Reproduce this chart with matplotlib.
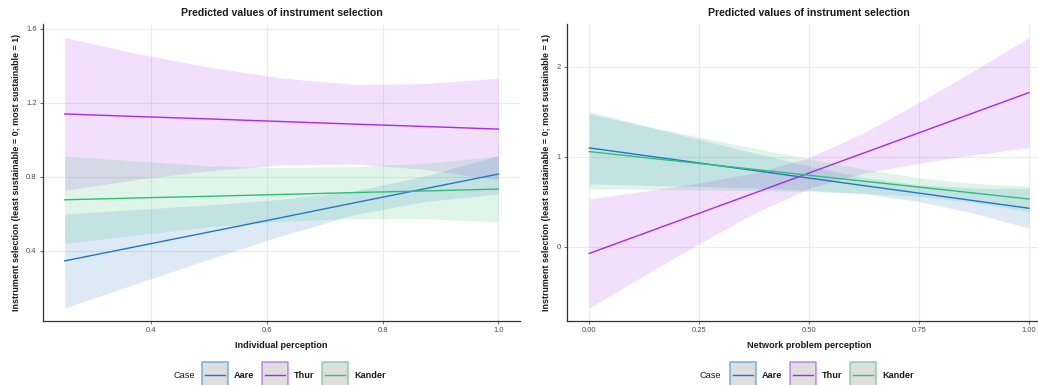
import matplotlib
matplotlib.use("Agg")
import matplotlib.pyplot as plt
from matplotlib.lines import Line2D
from matplotlib.patches import Rectangle

plt.rcParams["font.family"] = ["Liberation Sans", "DejaVu Sans"]

CASES = ["Aare", "Thur", "Kander"]
COLORS = {"Aare": "#1f78c8", "Thur": "#a72bea", "Kander": "#2ebf72"}

# left panel: individual perception
IND_X = [0.25, 0.375, 0.5, 0.625, 0.75, 0.875, 1.0]
IND_PRED = {
    "Aare": [0.346, 0.424, 0.502, 0.580, 0.659, 0.737, 0.815],
    "Thur": [1.140, 1.126, 1.113, 1.099, 1.085, 1.072, 1.058],
    "Kander": [0.676, 0.686, 0.695, 0.705, 0.715, 0.724, 0.734],
}
IND_HIGH = {
    "Aare": [0.600, 0.624, 0.649, 0.679, 0.723, 0.806, 0.915],
    "Thur": [1.553, 1.466, 1.393, 1.334, 1.300, 1.304, 1.333],
    "Kander": [0.912, 0.886, 0.860, 0.850, 0.855, 0.874, 0.912],
}
IND_LOW = {
    "Aare": [0.092, 0.224, 0.355, 0.481, 0.595, 0.668, 0.707],
    "Thur": [0.727, 0.786, 0.833, 0.864, 0.870, 0.840, 0.783],
    "Kander": [0.440, 0.486, 0.530, 0.560, 0.575, 0.574, 0.556],
}

# right panel: network problem perception
NET_X = [0.0, 0.125, 0.25, 0.375, 0.5, 0.625, 0.75, 0.875, 1.0]
NET_PRED = {
    "Aare": [1.097, 1.013, 0.930, 0.846, 0.762, 0.678, 0.595, 0.511, 0.427],
    "Thur": [-0.074, 0.149, 0.372, 0.595, 0.819, 1.042, 1.265, 1.488, 1.711],
    "Kander": [1.056, 0.990, 0.924, 0.859, 0.793, 0.727, 0.662, 0.596, 0.530],
}
NET_HIGH = {
    "Aare": [1.497, 1.343, 1.190, 1.041, 0.896, 0.768, 0.688, 0.651, 0.647],
    "Thur": [0.531, 0.617, 0.708, 0.819, 0.989, 1.266, 1.601, 1.956, 2.322],
    "Kander": [1.471, 1.342, 1.218, 1.094, 0.974, 0.860, 0.766, 0.702, 0.672],
}
NET_LOW = {
    "Aare": [0.697, 0.683, 0.669, 0.651, 0.628, 0.588, 0.502, 0.371, 0.207],
    "Thur": [-0.679, -0.319, 0.036, 0.371, 0.649, 0.818, 0.929, 1.020, 1.101],
    "Kander": [0.641, 0.638, 0.630, 0.624, 0.612, 0.594, 0.558, 0.490, 0.388],
}

IND_XTICKS = [0.4, 0.6, 0.8, 1.0]
IND_XLABELS = ["0.4", "0.6", "0.8", "1.0"]
IND_YTICKS = [0.4, 0.8, 1.2, 1.6]
IND_YLABELS = ["0.4", "0.8", "1.2", "1.6"]
NET_XTICKS = [0.0, 0.25, 0.5, 0.75, 1.0]
NET_XLABELS = ["0.00", "0.25", "0.50", "0.75", "1.00"]
NET_YTICKS = [0, 1, 2]
NET_YLABELS = ["0", "1", "2"]

TITLE = "Predicted values of instrument selection"
YLABEL = "Instrument selection (least sustainable = 0; most sustainable = 1)"

W, H = 1038, 385


def draw_panel(ax, xs, pred, high, low, xticks, xlabels, yticks, ylabels, xlim, ylim, xlabel, ypad):
    for case in CASES:
        ax.fill_between(xs, low[case], high[case], color=COLORS[case], alpha=0.15,
                        linewidth=0, zorder=2)
    for case in CASES:
        ax.plot(xs, pred[case], color=COLORS[case], lw=1.0, zorder=3)
    ax.set_xlim(*xlim)
    ax.set_ylim(*ylim)
    ax.set_xticks(xticks)
    ax.set_xticklabels(xlabels)
    ax.set_yticks(yticks)
    ax.set_yticklabels(ylabels)
    ax.grid(True, color="#ebebeb", lw=0.8, zorder=0)
    ax.set_axisbelow(True)
    for side in ["top", "right"]:
        ax.spines[side].set_visible(False)
    for side in ["left", "bottom"]:
        ax.spines[side].set_color("#333333")
        ax.spines[side].set_linewidth(0.9)
    ax.tick_params(length=2.5, width=0.5, color="#333333", labelcolor="#4d4d4d",
                   labelsize=5.5, pad=2)
    ax.set_title(TITLE, fontsize=7.6, fontweight="bold", color="#1a1a1a", pad=6)
    ax.set_xlabel(xlabel, fontsize=6.6, fontweight="bold", color="#1a1a1a", labelpad=5)
    ax.set_ylabel(YLABEL, fontsize=6.4, fontweight="bold", color="#1a1a1a", labelpad=ypad)


def draw_legend(fig, case_x, key_xs):
    fig.text(case_x / W, 1 - 375 / H, "Case", fontsize=6.6, color="#1a1a1a",
             ha="left", va="center")
    for case, kx in zip(CASES, key_xs):
        rect = Rectangle((kx / W, 1 - 389 / H), 26 / W, 27 / H, transform=fig.transFigure,
                         facecolor="#dedede", lw=1.1,
                         edgecolor=matplotlib.colors.to_rgba(COLORS[case], 0.55))
        fig.patches.append(rect)
        fig.lines.append(Line2D([(kx + 3) / W, (kx + 23) / W], [1 - 375 / H, 1 - 375 / H],
                                transform=fig.transFigure, color=COLORS[case], lw=1.0,
                                zorder=5))
        fig.text((kx + 32) / W, 1 - 375 / H, case, fontsize=6.6, fontweight="bold",
                 color="#1a1a1a", ha="left", va="center")


fig = plt.figure(figsize=(W / 100, H / 100), dpi=100)
fig.patch.set_facecolor("white")

top, bottom = 24, 321
ax1 = fig.add_axes([43 / W, 1 - bottom / H, (520 - 43) / W, (bottom - top) / H])
ax2 = fig.add_axes([567.3 / W, 1 - bottom / H, (1051 - 567.3) / W, (bottom - top) / H])

draw_panel(ax1, IND_X, IND_PRED, IND_HIGH, IND_LOW, IND_XTICKS, IND_XLABELS,
           IND_YTICKS, IND_YLABELS, (0.2125, 1.0375), (0.021, 1.626),
           "Individual perception", 4)
draw_panel(ax2, NET_X, NET_PRED, NET_HIGH, NET_LOW, NET_XTICKS, NET_XLABELS,
           NET_YTICKS, NET_YLABELS, (-0.05, 1.05), (-0.824, 2.472),
           "Network problem perception", 4)

draw_legend(fig, 173, [202, 262, 322])
draw_legend(fig, 700, [730, 790, 850])

fig.savefig("out.png", dpi=100, facecolor="white")
